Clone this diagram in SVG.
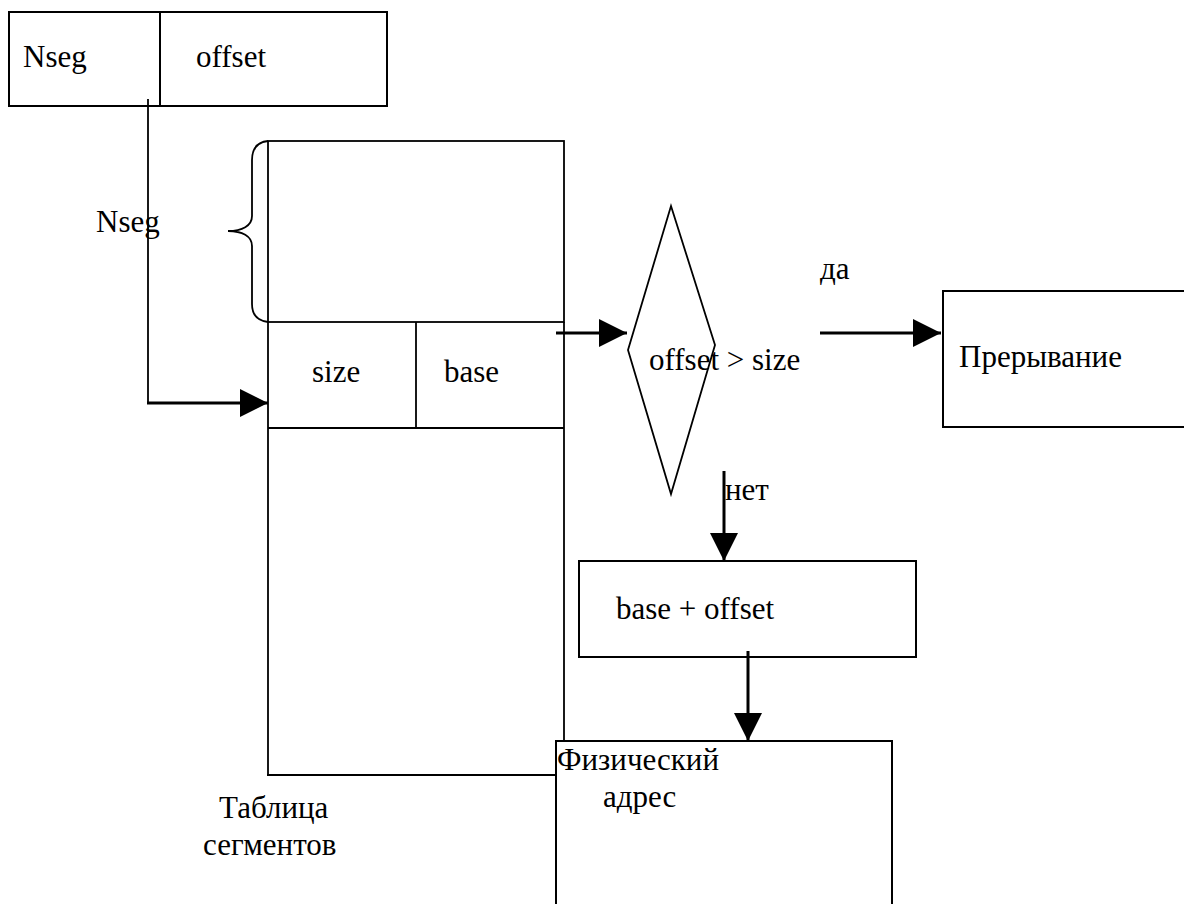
<svg xmlns="http://www.w3.org/2000/svg" width="1184" height="904" viewBox="0 0 1184 904">
  <defs>
    <marker id="arrow" markerUnits="userSpaceOnUse" markerWidth="30" markerHeight="28" refX="28" refY="14" orient="auto">
      <path d="M0,0 L28,14 L0,28 Z" fill="#000"/>
    </marker>
    <style>
      .box { fill: none; stroke: #000; stroke-width: 2; }
      .thin { fill: none; stroke: #000; stroke-width: 1.8; }
      .conn { fill: none; stroke: #000; stroke-width: 3; }
      text { font-family: 'Liberation Serif', 'DejaVu Serif', serif; font-size: 31px; fill: #000; }
    </style>
  </defs>
  <rect width="1184" height="904" fill="#fff"/>

  <!-- logical address: segment number + offset -->
  <g id="logical-address">
    <rect class="box" x="9" y="12" width="378" height="94"/>
    <line class="box" x1="160" y1="12" x2="160" y2="106"/>
    <text x="23" y="67" font-family="Liberation Serif">Nseg</text>
    <text x="196" y="67" font-family="Liberation Serif">offset</text>
  </g>

  <!-- segment table -->
  <g id="segment-table">
    <rect class="thin" x="268" y="141" width="296" height="181"/>
    <line class="thin" x1="268" y1="322" x2="268" y2="775"/>
    <line class="thin" x1="564" y1="322" x2="564" y2="741"/>
    <line class="thin" x1="268" y1="428" x2="564" y2="428"/>
    <line class="thin" x1="416" y1="322" x2="416" y2="428"/>
    <line class="box" x1="267" y1="775" x2="556" y2="775"/>
    <text x="312" y="382" font-family="Liberation Serif">size</text>
    <text x="444" y="382" font-family="Liberation Serif">base</text>
    <path class="thin" d="M268,141 C258,142 252,148 252,160 L252,216 C252,226 242,231 228,231 C242,231 252,236 252,246 L252,304 C252,316 258,321 268,322"/>
    <text x="96" y="232" font-family="Liberation Serif">Nseg</text>
    <text x="219" y="818" font-family="Liberation Serif">Таблица</text>
    <text x="203" y="855" font-family="Liberation Serif">сегментов</text>
  </g>

  <!-- comparison -->
  <g id="check">
    <polygon class="thin" points="671,206 715,345 671,494 628,350"/>
    <text x="649" y="370" font-family="Liberation Serif">offset &gt; size</text>
  </g>

  <!-- trap -->
  <g id="trap">
    <rect class="box" x="943" y="291" width="245" height="136"/>
    <text x="959" y="367" font-family="Liberation Serif">Прерывание</text>
  </g>

  <!-- address sum -->
  <g id="sum">
    <rect class="box" x="579" y="561" width="337" height="96"/>
    <text x="616" y="619" font-family="Liberation Serif">base + offset</text>
  </g>

  <!-- physical address -->
  <g id="physical">
    <rect class="box" x="556" y="741" width="336" height="175"/>
    <text x="557" y="770" font-family="Liberation Serif">Физический</text>
    <text x="603" y="807" font-family="Liberation Serif">адрес</text>
  </g>

  <!-- connectors -->
  <g id="connectors">
    <line class="thin" x1="148" y1="99" x2="148" y2="403"/>
    <line class="conn" x1="147" y1="403" x2="268" y2="403" marker-end="url(#arrow)"/>
    <line class="conn" x1="556" y1="333" x2="627" y2="333" marker-end="url(#arrow)"/>
    <line class="conn" x1="820" y1="333" x2="941" y2="333" marker-end="url(#arrow)"/>
    <line class="conn" x1="724" y1="471" x2="724" y2="561" marker-end="url(#arrow)"/>
    <line class="conn" x1="748" y1="651" x2="748" y2="741" marker-end="url(#arrow)"/>
    <text x="820" y="279" font-family="Liberation Serif">да</text>
    <text x="725" y="500" font-family="Liberation Serif">нет</text>
  </g>
</svg>
